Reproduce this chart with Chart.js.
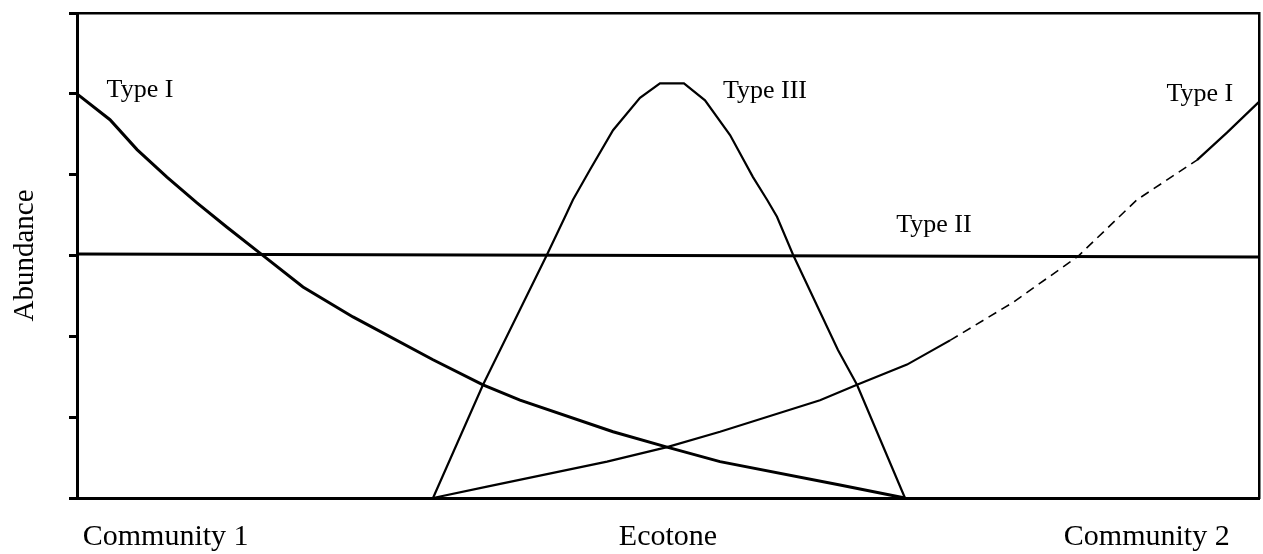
<!DOCTYPE html>
<html>
<head>
<meta charset="utf-8">
<script src="https://cdn.jsdelivr.net/npm/chart.js@4"></script>
<style>
    html, body { margin: 0; padding: 0; background: #fff; }
    #wrap { width: 1263px; height: 554px; }
</style>
</head>
<body>
<div id="wrap"><canvas id="ecotoneChart" width="1263" height="554"></canvas></div>
<script>
// gradient position 0..100, abundance 0..6
const typeIDownX = [0, 2.79, 5.08, 7.61, 10.15, 12.69, 15.48, 19.12, 23.35, 30.12, 34.35, 37.48, 45.35, 49.92, 54.40, 64.55, 70.05];
const typeIDownY = [5.0, 4.68, 4.31, 3.97, 3.65, 3.35, 3.03, 2.61, 2.24, 1.71, 1.40, 1.21, 0.82, 0.63, 0.45, 0.16, 0];

const typeIUpX = [30.12, 34.69, 44.84, 49.92, 54.40, 62.86, 65.99, 70.22, 73.86, 79.19, 84.69, 89.68, 94.75, 97.29, 100];
const typeIUpY = [0, 0.14, 0.45, 0.63, 0.82, 1.21, 1.40, 1.65, 1.95, 2.42, 2.99, 3.69, 4.18, 4.52, 4.90];

const typeIIX = [0, 100];
const typeIIY = [3.02, 2.98];

const typeIIIX = [30.12, 34.35, 39.76, 41.29, 41.96, 43.40, 45.35, 47.63, 49.32, 51.35, 53.13, 55.25, 57.19, 58.38, 59.22, 60.58, 64.38, 65.99, 70.05];
const typeIIIY = [0, 1.40, 3.01, 3.48, 3.69, 4.06, 4.55, 4.95, 5.13, 5.13, 4.92, 4.49, 3.97, 3.69, 3.48, 3.01, 1.83, 1.40, 0];

const xTickValues = [7.5, 50, 90.5];
const xTickLabels = ['Community 1', 'Ecotone', 'Community 2'];

const curveNames = ['Type I', 'Type III', 'Type II', 'Type I'];

const toPoints = (xs, ys) => xs.map((x, i) => ({ x: x, y: ys[i] }));

const serif = 'Liberation Serif, Times New Roman, serif';

// curve names sit inside the plot, placed in data units
const curveLabels = {
    id: 'curveLabels',
    afterDatasetsDraw(chart) {
        const c = chart.ctx;
        const xs = chart.scales.x, ys = chart.scales.y;
        const spots = [[5.33, 5.04], [58.2, 5.03], [72.5, 3.38], [95.0, 5.0]];
        c.save();
        c.font = '26px ' + serif;
        c.fillStyle = '#000';
        c.textAlign = 'center';
        c.textBaseline = 'middle';
        curveNames.forEach((name, i) => {
            c.fillText(name, xs.getPixelForValue(spots[i][0]), ys.getPixelForValue(spots[i][1]));
        });
        c.restore();
    }
};

const line = (label, pts, width, extra) => Object.assign({
    label: label,
    data: pts,
    borderColor: '#000',
    borderWidth: width,
    pointRadius: 0,
    tension: 0,
    fill: false
}, extra || {});

const isDashed = ctx => ctx.p0.parsed.x >= 73 && ctx.p1.parsed.x <= 95;

const data = {
    datasets: [
        line('Type I (Community 1)', toPoints(typeIDownX, typeIDownY), 3),
        line('Type I (Community 2)', toPoints(typeIUpX, typeIUpY), 2.2, {
            segment: {
                borderDash: ctx => isDashed(ctx) ? [9, 6] : undefined,
                borderWidth: ctx => isDashed(ctx) ? 1.6 : 2.2
            }
        }),
        line('Type II', toPoints(typeIIX, typeIIY), 3),
        line('Type III', toPoints(typeIIIX, typeIIIY), 2.2)
    ]
};

const options = {
    responsive: false,
    animation: false,
    clip: false,
    layout: { padding: { left: 4, right: 4, top: 13, bottom: 0 } },
    plugins: {
        legend: { display: false },
        tooltip: { enabled: false }
    },
    scales: {
        x: {
            type: 'linear',
            min: 0,
            max: 100,
            afterBuildTicks: scale => {
                scale.ticks = xTickValues.map(v => ({ value: v }));
            },
            afterFit: scale => { scale.height = 56; },
            grid: { display: true, drawOnChartArea: false, drawTicks: false },
            border: { display: true, color: '#000', width: 3 },
            ticks: {
                autoSkip: false,
                maxRotation: 0,
                padding: 21,
                color: '#000',
                font: { family: serif, size: 30 },
                callback: val => xTickLabels[xTickValues.indexOf(val)]
            }
        },
        y: {
            min: 0,
            max: 6,
            afterFit: scale => { scale.width = 73; },
            grid: {
                drawOnChartArea: false,
                drawTicks: true,
                tickLength: 8,
                tickWidth: 3,
                tickColor: '#000'
            },
            border: { display: true, color: '#000', width: 3 },
            ticks: { display: false, stepSize: 1 },
            title: {
                display: true,
                text: 'Abundance',
                color: '#000',
                font: { family: serif, size: 29 }
            }
        },
        xTop: {
            type: 'linear',
            position: 'top',
            min: 0,
            max: 100,
            grid: { drawOnChartArea: false, drawTicks: false },
            border: { display: true, color: '#000', width: 2.5 },
            ticks: { display: false }
        },
        yRight: {
            position: 'right',
            min: 0,
            max: 6,
            grid: { drawOnChartArea: false, drawTicks: false },
            border: { display: true, color: '#000', width: 2.5 },
            ticks: { display: false }
        }
    }
};

new Chart(document.getElementById('ecotoneChart').getContext('2d'), {
    type: 'line',
    data,
    options,
    plugins: [curveLabels]
});
</script>
</body>
</html>
